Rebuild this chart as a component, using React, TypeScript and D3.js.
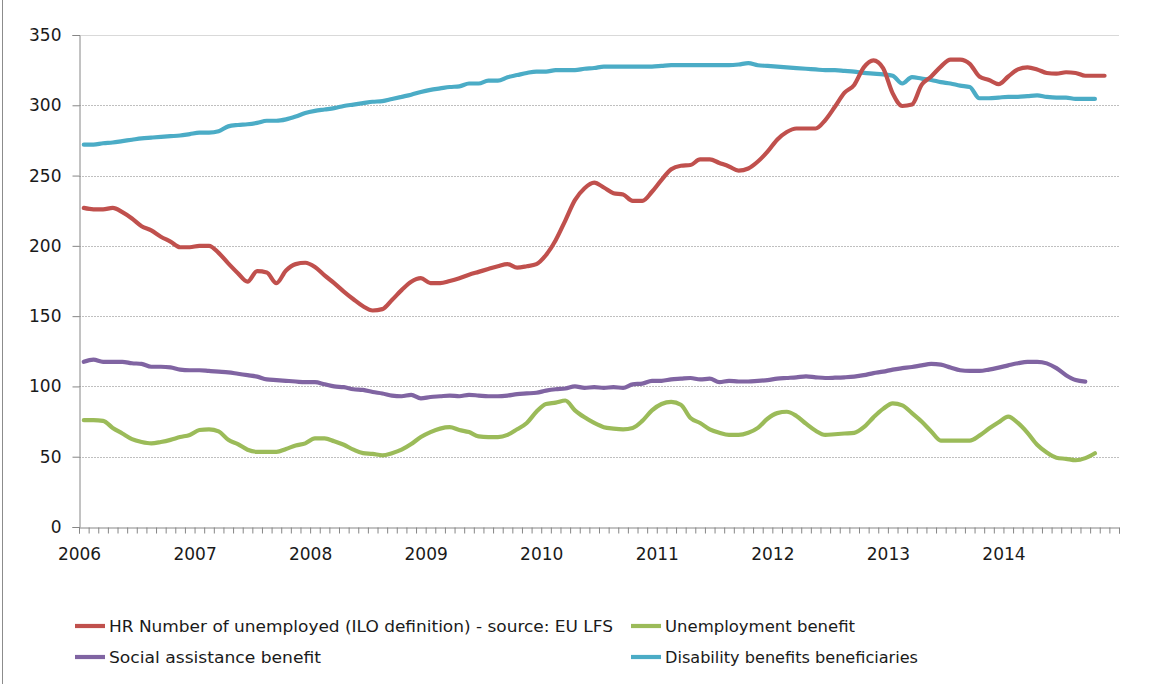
import React, { useEffect, useRef } from "react";
import * as d3 from "d3";

const yearLabels = ["2006", "2007", "2008", "2009", "2010", "2011", "2012", "2013", "2014"];
const yTicks = [0, 50, 100, 150, 200, 250, 300, 350];

const seriesNames = [
  "HR Number of unemployed (ILO definition) - source: EU LFS",
  "Unemployment benefit",
  "Social assistance benefit",
  "Disability benefits beneficiaries",
];

// monthly values, starting January 2006
const unemployedILO = [
  227, 226, 226, 227, 224, 219.5, 214, 211, 206.5, 203, 199, 199,
  200, 200, 195, 187.5, 180.5, 174.5, 182, 181, 173.5, 182.5, 187, 188,
  185, 179, 173.5, 167.5, 162, 157, 154, 155, 161.5, 168.5, 174.5, 177,
  173.5, 173.5, 175, 177, 179.5, 181.5, 183.5, 185.5, 187, 184.5, 185.5, 187,
  193.5, 204, 218, 232.5, 241, 245, 241.5, 237.5, 236.5, 232, 232, 238.5,
  247, 254.5, 257, 257.5, 261.5, 261.5, 259, 256.5, 253.5, 255, 260, 267,
  275.5, 281, 283.5, 283.5, 283.5, 289.5, 299, 309, 314.5, 327, 332, 326.5,
  308.5, 299.5, 300.5, 314.5, 320.5, 327.5, 332.5, 332.5, 329.5, 320.5, 318, 315,
  320.5, 325.5, 327, 325.5, 323, 322.5, 323.5, 323, 321, 321, 321,
];

const unemploymentBenefit = [
  76, 76, 75.5, 70.5, 66.5, 62.5, 60.5, 59.5, 60.5, 62, 64, 65.5,
  69, 69.5, 68, 62, 59, 55, 53.5, 53.5, 53.5, 55.5, 58, 59.5,
  63, 63, 61, 58.5, 55, 52.5, 52, 51, 52.5, 55, 59, 64,
  67.5, 70, 71, 69, 67.5, 64.5, 64, 64, 65.5, 69.5, 74, 82,
  87.5, 88.5, 90, 83, 78, 74, 71, 70, 69.5, 70.5, 75.5, 83,
  87.5, 89, 87, 77.5, 74, 69.5, 67, 65.5, 65.5, 67, 70.5, 77,
  81, 82, 79, 73.5, 68.5, 65.5, 66, 66.5, 67, 71, 78, 84,
  88, 86.5, 81, 75, 68, 61.5, 61.5, 61.5, 61.5, 65, 70, 74.5,
  78.5, 74, 67, 58.5, 53, 49.3, 48.5, 47.5, 49, 52.5,
];

const socialAssistance = [
  117.5, 119, 117.5, 117.5, 117.5, 116.5, 116, 114, 114, 113.5, 112, 111.5,
  111.5, 111, 110.5, 110, 109, 108, 107, 105, 104.5, 104, 103.5, 103,
  103, 101.5, 100, 99.5, 98, 97.5, 96, 95, 93.5, 93, 94, 91.5,
  92.5, 93, 93.5, 93, 94, 93.5, 93, 93, 93.5, 94.5, 95, 95.5,
  97, 98, 98.5, 100, 99, 99.5, 99, 99.5, 99, 101.5, 102, 104,
  104, 105, 105.5, 106, 105, 105.5, 103, 104, 103.5, 103.5, 104, 104.5,
  105.5, 106, 106.5, 107.2, 106.5, 106, 106.2, 106.5, 107, 108, 109.5, 110.5,
  112, 113, 113.8, 115, 116, 115.5, 113.5, 111.5, 111, 111, 112, 113.4,
  115, 116.5, 117.5, 117.5, 116.4, 113, 108, 104.5, 103.4,
];

const disability = [
  272, 272, 273, 273.5, 274.5, 275.5, 276.5, 277, 277.5, 278, 278.5, 279.5,
  280.5, 280.5, 281.5, 285, 286, 286.5, 287.5, 289, 289, 290, 292, 294.5,
  296, 297, 298, 299.5, 300.5, 301.5, 302.5, 303, 304.5, 306, 307.5, 309.5,
  311, 312, 313, 313.5, 315.5, 315.5, 317.5, 317.5, 320, 321.5, 323, 324,
  324, 325, 325, 325, 326, 326.5, 327.5, 327.5, 327.5, 327.5, 327.5, 327.5,
  328, 328.5, 328.5, 328.5, 328.5, 328.5, 328.5, 328.5, 329, 330, 328.5, 328,
  327.5, 327, 326.5, 326, 325.5, 325, 325, 324.5, 324, 323, 322.5, 322,
  321, 315.5, 320, 319, 318, 316.5, 315.5, 314, 313, 305, 305, 305.5,
  306, 306, 306.5, 307, 306, 305.5, 305.5, 304.5, 304.5, 304.5,
];

const colors = ["#C0504D", "#9BBB59", "#8064A2", "#4BACC6"];

export default function App() {
  const ref = useRef<SVGSVGElement | null>(null);

  useEffect(() => {
    document.body.style.margin = "0";
    const svg = d3.select(ref.current);
    svg.selectAll("*").remove();

    const W = 1155, H = 684;
    const left = 79, right = 1119, top = 35, bottom = 527;
    const nMonths = yearLabels.length * 12;

    const x = d3.scaleLinear().domain([0, nMonths]).range([left, right]);
    const y = d3.scaleLinear().domain([0, 350]).range([bottom, top]);

    svg.append("rect").attr("x", 0).attr("y", 0).attr("width", W).attr("height", H).attr("fill", "#fff");
    svg.append("line").attr("x1", 2.5).attr("x2", 2.5).attr("y1", 0).attr("y2", H)
      .attr("stroke", "#8c8c8c").attr("stroke-width", 1);

    const grid = svg.append("g");
    yTicks.filter((t) => t > 0).forEach((t) => {
      grid.append("line")
        .attr("x1", left).attr("x2", right)
        .attr("y1", Math.round(y(t)) + 0.5).attr("y2", Math.round(y(t)) + 0.5)
        .attr("stroke", t === 350 ? "#d9d9d9" : "#bfbfbf")
        .attr("stroke-width", 1)
        .attr("stroke-dasharray", t === 350 ? null : "2,1");
    });

    const yAxis = d3.axisLeft(y).tickValues(yTicks).tickSize(7).tickPadding(11).tickFormat((d) => String(d));
    const yg = svg.append("g").attr("transform", `translate(${left + 0.5},0)`).call(yAxis);
    yg.select(".domain").attr("stroke", "#868686");
    yg.selectAll(".tick line").attr("stroke", "#868686");
    yg.selectAll("text").attr("font-family", "'DejaVu Sans', sans-serif").attr("font-size", 17).attr("fill", "#1a1a1a");

    const monthTicks = d3.range(0, nMonths + 1);
    const xAxis = d3.axisBottom(x).tickValues(monthTicks).tickSize(6).tickPadding(14)
      .tickFormat((d) => {
        const m = d as number;
        return m % 12 === 0 && m / 12 < yearLabels.length ? yearLabels[m / 12] : "";
      });
    const xg = svg.append("g").attr("transform", `translate(0,${bottom + 0.5})`).call(xAxis);
    xg.select(".domain").attr("stroke", "#868686");
    xg.selectAll(".tick line").attr("stroke", "#868686");
    xg.selectAll("text").attr("font-family", "'DejaVu Sans', sans-serif").attr("font-size", 17).attr("fill", "#1a1a1a");

    const allSeries = [unemployedILO, unemploymentBenefit, socialAssistance, disability];
    const drawOrder = [3, 2, 1, 0];
    const line = d3.line<number>()
      .x((_, i) => x(i + 0.5))
      .y((d) => y(d))
      .curve(d3.curveMonotoneX);
    drawOrder.forEach((k) => {
      svg.append("path")
        .datum(allSeries[k])
        .attr("d", line)
        .attr("fill", "none")
        .attr("stroke", colors[k])
        .attr("stroke-width", 4.2)
        .attr("stroke-linejoin", "round")
        .attr("stroke-linecap", "round");
    });

    const legendItems = [
      { k: 0, sx: 75, tx: 109, y: 626, len: 504 },
      { k: 1, sx: 631, tx: 665, y: 626, len: 190 },
      { k: 2, sx: 75, tx: 109, y: 657, len: 212 },
      { k: 3, sx: 631, tx: 665, y: 657, len: 253 },
    ];
    legendItems.forEach((it) => {
      svg.append("line")
        .attr("x1", it.sx).attr("x2", it.sx + 30)
        .attr("y1", it.y).attr("y2", it.y)
        .attr("stroke", colors[it.k]).attr("stroke-width", 4.2);
      svg.append("text")
        .attr("x", it.tx).attr("y", it.y + 6)
        .attr("font-family", "'DejaVu Sans', sans-serif")
        .attr("font-size", 16)
        .attr("fill", "#1a1a1a")
        .attr("textLength", it.len)
        .attr("lengthAdjust", "spacingAndGlyphs")
        .text(seriesNames[it.k]);
    });
  }, []);

  return (
    <svg
      ref={ref}
      width={1155}
      height={684}
      style={{ position: "absolute", left: 0, top: 0, display: "block" }}
    />
  );
}
